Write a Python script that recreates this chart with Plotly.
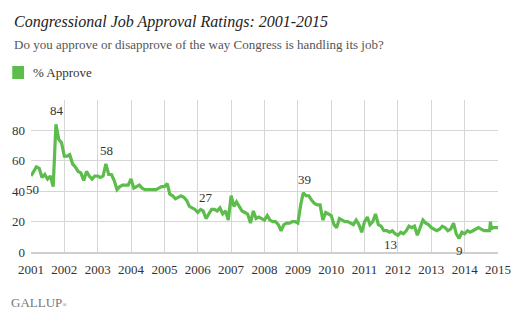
import pandas as pd
import plotly.graph_objects as go

# ---------------- data (monthly % approve) ----------------
approve_2001 = [50, 53, 56, 55, 49, 51, 48, 50, 43, 84, 74, 72]
approve_2002 = [63, 63, 64, 58, 56, 53, 52, 47, 53, 50, 48, 50]
approve_2003 = [50, 49, 50, 58, 51, 51, 47, 41, 43, 44, 44, 44]
approve_2004 = [48, 42, 43, 44, 42, 41, 41, 41, 41, 41, 42, 43]
approve_2005 = [43, 45, 38, 37, 35, 36, 37, 36, 34, 30, 29, 28]
approve_2006 = [26, 28, 27, 22, 25, 28, 28, 27, 29, 25, 27, 21]
approve_2007 = [37, 30, 33, 30, 27, 26, 25, 19, 27, 22, 23, 22]
approve_2008 = [21, 24, 21, 20, 20, 18, 14, 18, 19, 19, 20, 20]
approve_2009 = [19, 31, 39, 37, 37, 34, 32, 31, 31, 21, 26, 25]
approve_2010 = [24, 18, 16, 22, 21, 20, 20, 19, 18, 21, 18, 13]
approve_2011 = [20, 23, 18, 20, 25, 18, 17, 14, 14, 13, 14, 12]
approve_2012 = [11, 13, 12, 14, 17, 16, 17, 11, 16, 21, 19, 18]
approve_2013 = [16, 15, 14, 15, 17, 16, 14, 15, 19, 12, 9, 13]
approve_2014 = [12, 14, 13, 14, 15, 16, 15, 14, 14]          # Jan-Sep 2014
late_dates = ["2014-10-01", "2014-10-10", "2014-10-20", "2014-11-01",
              "2014-12-01", "2015-01-08"]
late_values = [14, 20, 15, 16, 16, 16]

years = list(range(2001, 2015))
yearly = [approve_2001, approve_2002, approve_2003, approve_2004, approve_2005,
          approve_2006, approve_2007, approve_2008, approve_2009, approve_2010,
          approve_2011, approve_2012, approve_2013, approve_2014]

year_ticks = [str(y) for y in range(2001, 2016)]
y_ticks = [0, 20, 40, 60, 80]

# labelled points: (date, value, text, x shift px, y shift px)
labels = [("2001-01-01", 50, "50", 1, -13),
          ("2001-10-01", 84, "84", 1, 14),
          ("2003-04-01", 58, "58", 1, 13),
          ("2006-03-01", 27, "27", 3, 13),
          ("2009-03-01", 39, "39", 1, 13),
          ("2011-10-01", 13, "13", 1, -12),
          ("2013-11-01", 9, "9", 0, -12),
          ("2015-01-08", 16, "16", -1, 13)]

# ---------------- build series ----------------
dates, values = [], []
for y, vals in zip(years, yearly):
    for m, v in enumerate(vals):
        dates.append(f"{y}-{m + 1:02d}-01")
        values.append(v)
dates += late_dates
values += late_values
dates = pd.to_datetime(dates)

GREEN = "#5cbd4c"
FONT = "Liberation Serif"

W, H = 523, 326
ML, MR, MT, MB = 29, 21, 100, 74
PW, PH = W - ML - MR, H - MT - MB


def px_x(px):
    return (px - ML) / PW


def px_y(py):
    return (H - MB - py) / PH


fig = go.Figure()
fig.add_trace(go.Scatter(x=dates, y=values, mode="lines",
                         line=dict(color=GREEN, width=3.2),
                         name="% Approve", showlegend=False,
                         hoverinfo="x+y"))

annotations = []
for d, v, t, xs, ys in labels:
    annotations.append(dict(x=d, y=v, xref="x", yref="y", text=t,
                            showarrow=False, xshift=xs, yshift=ys,
                            font=dict(family=FONT, size=13, color="#333333")))

annotations += [
    dict(xref="paper", yref="paper", x=px_x(10), y=px_y(22),
         xanchor="left", yanchor="middle", showarrow=False,
         text="Congressional Job Approval Ratings: 2001-2015",
         font=dict(family=FONT, size=16, color="#222222", style="italic")),
    dict(xref="paper", yref="paper", x=px_x(10), y=px_y(45),
         xanchor="left", yanchor="middle", showarrow=False,
         text="Do you approve or disapprove of the way Congress is handling its job?",
         font=dict(family=FONT, size=13, color="#555555")),
    dict(xref="paper", yref="paper", x=px_x(29), y=px_y(72),
         xanchor="left", yanchor="middle", showarrow=False,
         text="% Approve",
         font=dict(family=FONT, size=13, color="#333333")),
    dict(xref="paper", yref="paper", x=px_x(7), y=px_y(302),
         xanchor="left", yanchor="middle", showarrow=False,
         text="GALLUP<span style='font-size:6px'>®</span>",
         font=dict(family=FONT, size=13, color="#777777")),
]

shapes = [dict(type="rect", xref="paper", yref="paper",
               x0=px_x(10), x1=px_x(22), y0=px_y(79), y1=px_y(66),
               fillcolor=GREEN, line=dict(width=0))]

fig.update_layout(
    width=W, height=H, autosize=False,
    margin=dict(l=ML, r=MR, t=MT, b=MB, pad=0),
    paper_bgcolor="white", plot_bgcolor="white",
    showlegend=False,
    font=dict(family=FONT),
    annotations=annotations, shapes=shapes,
    xaxis=dict(type="date", range=["2001-01-01", "2015-01-01"],
               tickvals=[f"{t}-01-01" for t in year_ticks], ticktext=year_ticks,
               showgrid=True, gridcolor="#d6d6d6", gridwidth=1,
               showline=True, linecolor="#cfcfcf", linewidth=2,
               ticks="", ticklabelstandoff=4, zeroline=False,
               tickfont=dict(family=FONT, size=13, color="#333333")),
    yaxis=dict(range=[0, 100], tickvals=y_ticks,
               showgrid=True, gridcolor="#d6d6d6", gridwidth=1,
               zeroline=False, showline=False, ticks="",
               ticklabelstandoff=5,
               tickfont=dict(family=FONT, size=13, color="#333333")),
)

fig.write_html("out.html")
